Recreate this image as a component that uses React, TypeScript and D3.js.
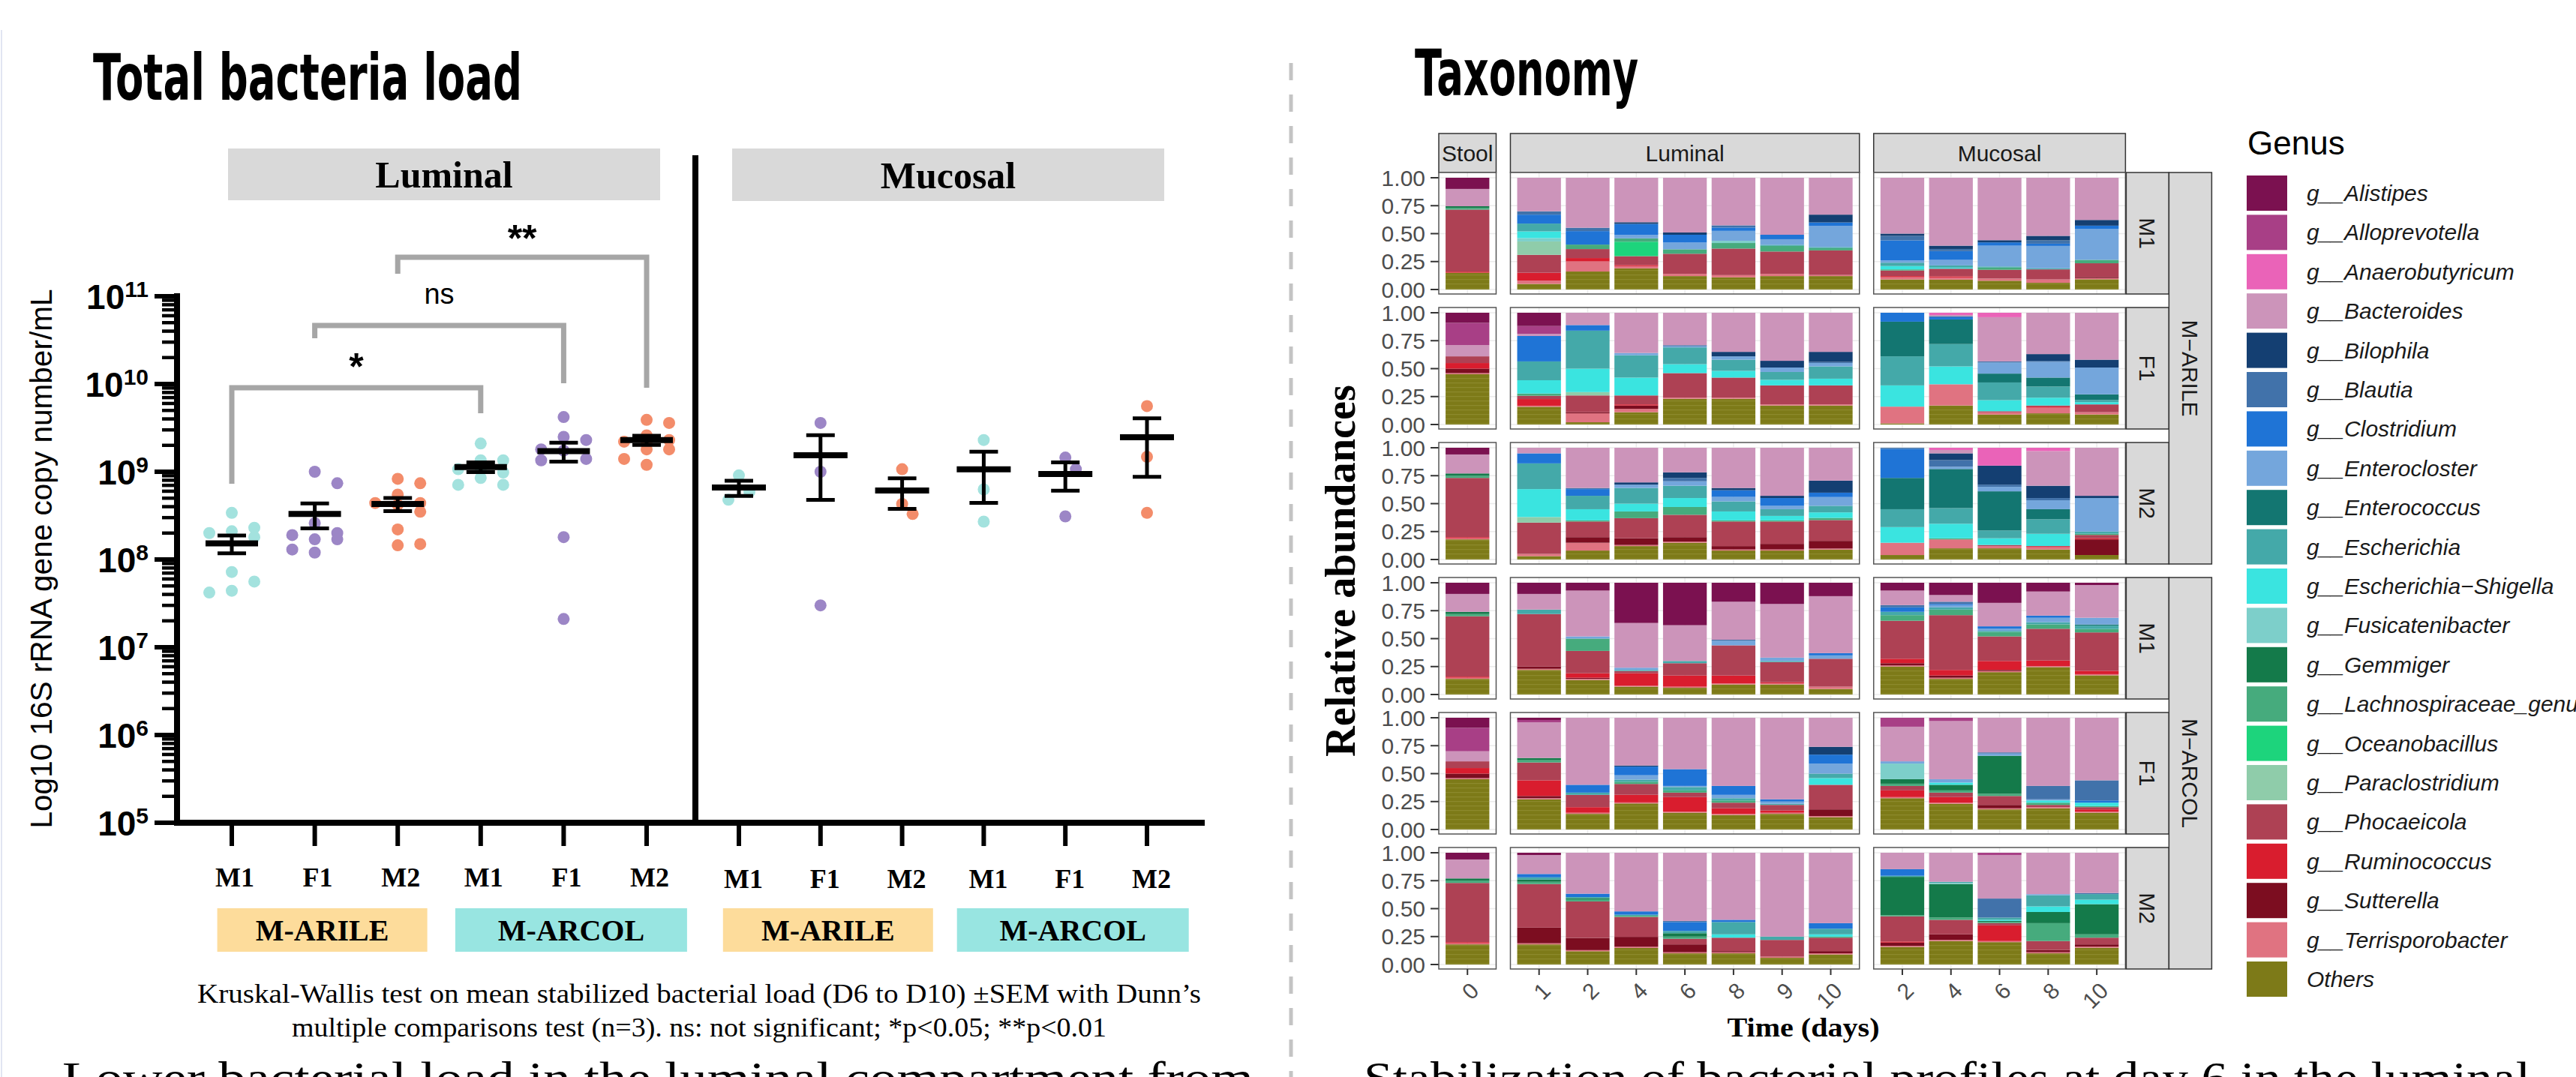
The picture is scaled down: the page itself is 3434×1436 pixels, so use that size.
import React from "react";
import * as d3 from "d3";

const W = 3434;
const H = 1436;
const SANS = "'Liberation Sans', Arial, sans-serif";
const SERIF = "'Liberation Serif', 'Times New Roman', serif";
const COND = "'DejaVu Sans', sans-serif";

// ---------------- Total bacteria load (copies / mL) ----------------
const loadLabels = ["M1", "F1", "M2", "M1", "F1", "M2"];

const luminalLoad = [
  [3.4e8, 2.0e8, 2.1e8, 2.3e8, 1.8e8, 7.2e7, 5.6e7, 4.2e7, 4.4e7],
  [1.0e9, 7.4e8, 2.6e8, 1.7e8, 2.0e8, 1.9e8, 1.7e8, 1.3e8, 1.2e8],
  [8.3e8, 7.4e8, 5.5e8, 4.4e8, 4.4e8, 4.2e8, 3.5e8, 2.2e8, 1.45e8, 1.5e8],
  [2.1e9, 1.35e9, 1.35e9, 9.8e8, 1.07e9, 1.07e9, 8.5e8, 7.1e8, 7.1e8],
  [4.2e9, 2.5e9, 2.3e9, 1.4e9, 1.74e9, 1.8e9, 1.35e9, 1.8e8, 2.1e7],
  [3.6e9, 3.9e9, 2.6e9, 2.2e9, 2.3e9, 2.2e9, 1.8e9, 1.8e9, 1.2e9, 1.4e9],
];
const mucosalLoad = [
  [9.1e8, 5.9e8, 4.8e8],
  [3.6e9, 1.0e9, 3.0e7],
  [1.07e9, 4.3e8, 3.3e8],
  [2.3e9, 6.3e8, 2.7e8],
  [1.45e9, 1.07e9, 3.1e8],
  [5.6e9, 1.48e9, 3.4e8],
];
const comparisons = [
  { from: 0, to: 3, label: "*" },
  { from: 1, to: 4, label: "ns" },
  { from: 2, to: 5, label: "**" },
];
const loadExponents = [5, 6, 7, 8, 9, 10, 11];

// ---------------- Taxonomy ----------------
const genusKeys = ["Ali", "All", "Ana", "Bac", "Bil", "Bla", "Clo", "Ecl", "Eco", "Esc", "ESh", "Fus", "Gem", "Lac", "Oce", "Par", "Pho", "Rum", "Sut", "Ter", "Oth"];
const genusNames = [
  "g__Alistipes", "g__Alloprevotella", "g__Anaerobutyricum", "g__Bacteroides", "g__Bilophila",
  "g__Blautia", "g__Clostridium", "g__Enterocloster", "g__Enterococcus", "g__Escherichia",
  "g__Escherichia\u2212Shigella", "g__Fusicatenibacter", "g__Gemmiger", "g__Lachnospiraceae_genus",
  "g__Oceanobacillus", "g__Paraclostridium", "g__Phocaeicola", "g__Ruminococcus", "g__Sutterella",
  "g__Terrisporobacter", "Others",
];
const genusColors = [
  "#7b1150", "#a83f86", "#ea63b8", "#cc94ba", "#143f72", "#4172aa", "#1f74d6", "#74a6dc",
  "#137671", "#44a9a9", "#3ae4e0", "#7dcfca", "#147a4a", "#46ab7d", "#1dd47c", "#8fccaa",
  "#ae4154", "#d91d2e", "#7c0d20", "#e07381", "#7d7a18",
];

const stoolDays = ["0"];
const luminalDays = ["1", "2", "4", "6", "8", "9", "10"];
const mucosalDays = ["2", "4", "6", "8", "10"];
const facetRows = ["M1", "F1", "M2", "M1", "F1", "M2"];
const facetModels = ["M\u2212ARILE", "M\u2212ARCOL"];

// each row: stool, luminal days 1..10, mucosal days 2..10
const arileM1 = [
  { Ali: .10, Bac: .155, Gem: .015, Lac: .015, Pho: .555, Rum: .01, Oth: .15 },
  { Bac: .30, Bla: .03, Clo: .08, Esc: .07, ESh: .06, Fus: .03, Par: .12, Pho: .16, Rum: .07, Ter: .03, Oth: .05 },
  { Bac: .445, Bla: .03, Clo: .12, Lac: .04, Pho: .08, Rum: .03, Ter: .09, Oth: .16 },
  { Bac: .40, Bil: .015, Clo: .10, Ecl: .03, Lac: .03, Oce: .13, Pho: .08, Rum: .01, Ter: .02, Oth: .19 },
  { Bac: .49, Bil: .02, Clo: .07, Ecl: .06, Lac: .04, Pho: .18, Ter: .02, Oth: .12 },
  { Bac: .43, Bla: .02, Clo: .03, Ecl: .09, Fus: .02, Lac: .05, Pho: .24, Ter: .02, Oth: .11 },
  { Bac: .51, Clo: .04, Ecl: .05, Esc: .01, Lac: .05, Pho: .20, Ter: .02, Oth: .12 },
  { Bac: .33, Bil: .07, Clo: .03, Ecl: .19, Esc: .01, Lac: .02, Pho: .22, Ter: .01, Oth: .12 },
  { Bac: .50, Bil: .02, Bla: .04, Clo: .18, Ecl: .02, Esc: .03, ESh: .03, Lac: .01, Pho: .05, Rum: .01, Ter: .02, Oth: .09 },
  { Bac: .62, Bil: .03, Bla: .02, Clo: .08, Ecl: .05, Esc: .02, ESh: .01, Pho: .07, Rum: .01, Ter: .02, Oth: .09 },
  { Bac: .57, Bil: .02, Clo: .03, Ecl: .19, Esc: .01, Lac: .02, Pho: .08, Ter: .02, Oth: .08 },
  { Bac: .52, Bil: .04, Bla: .03, Clo: .02, Ecl: .20, Esc: .01, Pho: .09, Ter: .03, Oth: .06 },
  { Bac: .37, Bil: .05, Clo: .03, Ecl: .27, Lac: .03, Pho: .12, Sut: .01, Ter: .01, Oth: .09 },
];
const arileF1 = [
  { Ali: .09, All: .20, Bac: .10, Pho: .06, Rum: .05, Sut: .04, Ter: .01, Oth: .45 },
  { Ali: .12, All: .07, Bac: .02, Clo: .23, Esc: .17, ESh: .12, Lac: .02, Pho: .03, Rum: .06, Ter: .01, Oth: .16 },
  { Bac: .11, Clo: .05, Esc: .34, ESh: .21, Par: .03, Pho: .15, Sut: .01, Ter: .08, Oth: .02 },
  { Bac: .36, Ecl: .02, Esc: .20, ESh: .16, Pho: .08, Rum: .01, Sut: .03, Ter: .03, Oth: .11 },
  { Bac: .29, Bla: .01, Ecl: .01, Esc: .15, ESh: .08, Pho: .22, Ter: .01, Oth: .23 },
  { Bac: .35, Bil: .04, Ecl: .03, Esc: .10, ESh: .06, Pho: .18, Ter: .01, Oth: .23 },
  { Bac: .43, Bil: .06, Ecl: .04, Esc: .07, ESh: .05, Pho: .17, Ter: .01, Oth: .17 },
  { Bac: .35, Bil: .09, Bla: .01, Ecl: .03, Esc: .11, ESh: .06, Pho: .17, Ter: .01, Oth: .17 },
  { Clo: .08, Eco: .31, Esc: .26, ESh: .19, Ter: .15, Oth: .01 },
  { Ana: .02, Bac: .01, Bla: .01, Clo: .02, Eco: .22, Esc: .20, ESh: .16, Ter: .19, Oth: .17 },
  { Ana: .04, Bac: .40, Bla: .01, Ecl: .10, Eco: .08, Esc: .16, ESh: .10, Pho: .01, Ter: .02, Oth: .09 },
  { Bac: .37, Bil: .06, Bla: .01, Ecl: .14, Eco: .08, Esc: .10, ESh: .07, Pho: .01, Rum: .01, Ter: .05, Oth: .10 },
  { Bac: .42, Bil: .07, Ecl: .24, Eco: .05, Esc: .02, ESh: .02, Pho: .07, Ter: .02, Oth: .09 },
];
const arileM2 = [
  { Ali: .06, Bac: .17, Gem: .02, Lac: .02, Pho: .53, Rum: .01, Ter: .01, Oth: .18 },
  { Bac: .05, Clo: .09, Esc: .23, ESh: .25, Par: .05, Pho: .28, Ter: .02, Oth: .03 },
  { Bac: .36, Bla: .01, Clo: .06, Esc: .12, ESh: .10, Lac: .01, Pho: .14, Sut: .05, Ter: .07, Oth: .08 },
  { Bac: .31, Bil: .02, Ecl: .03, Esc: .14, ESh: .07, Lac: .06, Pho: .18, Sut: .06, Ter: .01, Oth: .12 },
  { Bac: .22, Bil: .05, Bla: .03, Ecl: .04, Esc: .11, ESh: .08, Lac: .07, Pho: .20, Sut: .04, Ter: .01, Oth: .15 },
  { Bac: .36, Bil: .02, Clo: .06, Ecl: .04, Esc: .09, ESh: .08, Lac: .01, Pho: .22, Sut: .03, Ter: .01, Oth: .08 },
  { Bac: .43, Bil: .02, Clo: .07, Ecl: .03, Esc: .06, ESh: .04, Lac: .01, Pho: .20, Sut: .05, Ter: .01, Oth: .08 },
  { Bac: .30, Bil: .11, Clo: .04, Ecl: .08, Esc: .06, ESh: .05, Lac: .02, Pho: .19, Sut: .07, Ter: .01, Oth: .09 },
  { Bla: .01, Clo: .26, Eco: .28, Esc: .16, ESh: .14, Ter: .11, Oth: .04 },
  { Ana: .02, Bac: .03, Bil: .06, Bla: .06, Ecl: .02, Eco: .35, Esc: .14, ESh: .13, Lac: .01, Ter: .08, Oth: .10 },
  { Ana: .16, Bil: .17, Bla: .02, Ecl: .04, Eco: .35, Esc: .07, ESh: .06, Pho: .01, Ter: .02, Oth: .10 },
  { Ana: .03, Bac: .31, Bil: .11, Bla: .02, Ecl: .08, Eco: .09, Esc: .13, ESh: .11, Rum: .01, Ter: .02, Oth: .09 },
  { Bac: .43, Bil: .02, Ecl: .30, Esc: .02, Lac: .01, Pho: .03, Rum: .01, Sut: .14, Oth: .04 },
];
const arcolM1 = [
  { Ali: .10, Bac: .16, Gem: .02, Lac: .02, Pho: .54, Rum: .01, Ter: .01, Oth: .14 },
  { Ali: .10, Bac: .14, Esc: .04, Pho: .47, Sut: .02, Ter: .01, Oth: .22 },
  { Ali: .07, Bac: .41, Ecl: .02, Lac: .11, Pho: .20, Rum: .04, Sut: .01, Ter: .01, Oth: .13 },
  { Ali: .36, Bac: .40, Ecl: .02, Esc: .01, Pho: .02, Rum: .11, Ter: .01, Oth: .07 },
  { Ali: .38, Bac: .32, Esc: .02, Pho: .11, Rum: .10, Ter: .01, Oth: .06 },
  { Ali: .17, Bac: .34, Bla: .01, Ecl: .04, Pho: .27, Rum: .07, Ter: .01, Oth: .09 },
  { Ali: .19, Bac: .48, Ecl: .03, Esc: .01, Pho: .18, Rum: .01, Ter: .01, Oth: .09 },
  { Ali: .12, Bac: .51, Clo: .02, Ecl: .03, Pho: .25, Ter: .02, Oth: .05 },
  { Ali: .07, Bac: .13, Bla: .02, Clo: .04, Esc: .03, Lac: .05, Pho: .34, Rum: .04, Sut: .02, Ter: .01, Oth: .25 },
  { Ali: .11, Bac: .06, Bla: .02, Clo: .01, Ecl: .02, Esc: .02, Lac: .05, Pho: .49, Rum: .05, Sut: .02, Ter: .01, Oth: .14 },
  { Ali: .18, Bac: .21, Clo: .02, Ecl: .02, Esc: .01, Lac: .04, Pho: .22, Rum: .08, Sut: .01, Ter: .01, Oth: .20 },
  { Ali: .08, Bac: .22, Clo: .02, Ecl: .04, Esc: .02, Lac: .04, Pho: .29, Rum: .05, Ter: .01, Oth: .25 },
  { Ali: .02, Bac: .29, Ecl: .06, Eco: .01, Esc: .03, Lac: .03, Pho: .34, Rum: .03, Ter: .01, Oth: .17 },
];
const arcolF1 = [
  { Ali: .09, All: .21, Bac: .09, Pho: .06, Rum: .05, Sut: .04, Ter: .01, Oth: .45 },
  { Ali: .02, All: .02, Bac: .32, Gem: .02, Lac: .02, Pho: .16, Rum: .14, Sut: .02, Ter: .01, Oth: .27 },
  { Bac: .60, Clo: .07, Esc: .02, Pho: .11, Rum: .05, Ter: .01, Oth: .14 },
  { Bac: .44, Bil: .01, Clo: .08, Ecl: .04, Esc: .02, Lac: .02, Pho: .10, Rum: .07, Ter: .01, Oth: .24 },
  { Bac: .46, Clo: .15, Ecl: .01, Esc: .03, Lac: .02, Pho: .04, Rum: .13, Ter: .01, Oth: .15 },
  { Bac: .61, Clo: .08, Ecl: .03, Esc: .02, Lac: .02, Pho: .05, Rum: .05, Ter: .01, Oth: .13 },
  { Bac: .73, Clo: .02, Ecl: .02, Esc: .01, Pho: .05, Rum: .02, Ter: .01, Oth: .14 },
  { Bac: .26, Bil: .07, Clo: .08, Ecl: .09, Esc: .04, ESh: .06, Pho: .22, Sut: .06, Ter: .01, Oth: .11 },
  { All: .08, Bac: .31, Ecl: .02, Fus: .14, Gem: .04, Lac: .02, Pho: .04, Rum: .06, Ter: .01, Oth: .28 },
  { All: .03, Bac: .52, Ecl: .03, ESh: .02, Gem: .05, Lac: .02, Pho: .04, Rum: .05, Ter: .01, Oth: .23 },
  { Bac: .31, Bla: .01, Ecl: .02, Gem: .34, Lac: .02, Pho: .08, Sut: .03, Ter: .01, Oth: .18 },
  { Bac: .61, Bla: .12, Ecl: .01, ESh: .02, Lac: .02, Pho: .02, Ter: .01, Oth: .19 },
  { Bac: .56, Bla: .18, Clo: .02, ESh: .03, Lac: .01, Pho: .02, Rum: .02, Ter: .01, Oth: .15 },
];
const arcolM2 = [
  { Ali: .06, Bac: .17, Gem: .02, Lac: .02, Pho: .53, Rum: .01, Ter: .01, Oth: .18 },
  { Ali: .02, Bac: .17, Clo: .03, Esc: .02, Gem: .02, Lac: .02, Pho: .39, Sut: .14, Ter: .01, Oth: .18 },
  { Bac: .37, Clo: .03, Esc: .01, Gem: .01, Lac: .02, Pho: .33, Sut: .11, Ter: .01, Oth: .12 },
  { Bac: .53, Clo: .03, Esc: .01, Lac: .01, Pho: .18, Sut: .09, Ter: .01, Oth: .15 },
  { Bac: .61, Bla: .01, Clo: .08, Esc: .02, Gem: .03, Lac: .02, Pho: .05, Sut: .07, Ter: .01, Oth: .10 },
  { Bac: .60, Clo: .02, Esc: .11, ESh: .03, Pho: .12, Sut: .01, Ter: .01, Oth: .10 },
  { Bac: .75, Esc: .03, Pho: .15, Ter: .01, Oth: .06 },
  { Bac: .63, Clo: .05, Esc: .05, ESh: .02, Lac: .01, Pho: .12, Sut: .02, Ter: .01, Oth: .09 },
  { Bac: .15, Clo: .06, Esc: .01, Gem: .35, Lac: .01, Pho: .23, Rum: .01, Sut: .03, Ter: .01, Oth: .16 },
  { Bac: .26, Esc: .01, Fus: .01, Gem: .30, Lac: .02, Pho: .13, Sut: .05, Ter: .01, Oth: .21 },
  { All: .02, Bac: .39, Bla: .17, Esc: .02, ESh: .01, Gem: .01, Lac: .01, Pho: .02, Rum: .14, Ter: .01, Oth: .20 },
  { Bac: .37, Ecl: .01, Esc: .10, ESh: .05, Gem: .10, Lac: .16, Pho: .08, Sut: .02, Ter: .01, Oth: .10 },
  { Bac: .36, Bla: .01, Esc: .05, ESh: .04, Gem: .27, Lac: .03, Pho: .06, Sut: .02, Ter: .01, Oth: .15 },
];
const taxonomyRows = [arileM1, arileF1, arileM2, arcolM1, arcolF1, arcolM2];

// ---------------- scales / helpers ----------------
const donorColor: Record<string, string> = { M1: "#a3e2de", F1: "#9c86c6", M2: "#f38c6a" };
const modelFill: Record<string, string> = { "M-ARILE": "#fddc9b", "M-ARCOL": "#98e5e1" };
const modelBoxW: Record<string, number> = { "M-ARILE": 280, "M-ARCOL": 309 };

const yLoad = d3.scaleLog().domain([1e5, 1e11]).range([1097, 395]);
const xLum = d3.scalePoint<number>().domain(d3.range(6)).range([309, 862]);
const xMuc = d3.scalePoint<number>().domain(d3.range(6)).range([985, 1529]);

function swarm(vals: number[], cx: number, laneW: number, minDy: number) {
  const pts = vals.map((v) => ({ v, y: yLoad(v), x: cx }));
  const placed: { lane: number; y: number }[] = [];
  const lanes = [0, 1, -1];
  [...pts].sort((a, b) => a.y - b.y).forEach((p) => {
    let best = 0;
    let bestD = -1;
    for (const l of lanes) {
      const d = d3.min(placed.filter((q) => q.lane === l), (q) => Math.abs(q.y - p.y)) ?? Infinity;
      if (d >= minDy) { best = l; break; }
      if (d > bestD) { bestD = d; best = l; }
    }
    placed.push({ lane: best, y: p.y });
    p.x = cx + best * laneW;
  });
  return pts;
}

function LoadGroup({ vals, cx, donor, laneW, minDy, halfW }: any) {
  const m = d3.mean(vals) as number;
  const sem = (d3.deviation(vals) as number) / Math.sqrt(vals.length);
  const pts = swarm(vals, cx, laneW, minDy);
  return (
    <g>
      {pts.map((p, i) => (
        <circle key={i} cx={p.x} cy={p.y} r={8} fill={donorColor[donor]} />
      ))}
      <line x1={cx} x2={cx} y1={yLoad(m + sem)} y2={yLoad(Math.max(m - sem, 1e5))} stroke="#000" strokeWidth={5} />
      <line x1={cx - 19} x2={cx + 19} y1={yLoad(m + sem)} y2={yLoad(m + sem)} stroke="#000" strokeWidth={5} />
      <line x1={cx - 19} x2={cx + 19} y1={yLoad(m - sem)} y2={yLoad(m - sem)} stroke="#000" strokeWidth={5} />
      <line x1={cx - halfW} x2={cx + halfW} y1={yLoad(m)} y2={yLoad(m)} stroke="#000" strokeWidth={8} />
    </g>
  );
}

function LoadChart() {
  const minor: number[] = [];
  for (let e = 5; e < 11; e++) for (let k = 2; k <= 9; k++) minor.push(k * 10 ** e);
  const bracketLayout = [
    { bar: 517, l: 645, r: 551, ty: 506, fs: 50 },
    { bar: 434, l: 451, r: 511, ty: 405, fs: 38 },
    { bar: 343, l: 365, r: 517, ty: 335, fs: 50 },
  ];
  const modelGroups = [
    { model: "M-ARILE", idx: [0, 1, 2] },
    { model: "M-ARCOL", idx: [3, 4, 5] },
  ];
  return (
    <g>
      <text x={124} y={133} fontFamily={COND} fontWeight="bold" fontSize={86} textLength={572} lengthAdjust="spacingAndGlyphs">
        Total bacteria load
      </text>

      {/* facet strips */}
      <rect x={304} y={198} width={576} height={69} fill="#d9d9d9" />
      <text x={592} y={250} textAnchor="middle" fontFamily={SERIF} fontWeight="bold" fontSize={50}>Luminal</text>
      <rect x={976} y={198} width={576} height={70} fill="#d9d9d9" />
      <text x={1264} y={251} textAnchor="middle" fontFamily={SERIF} fontWeight="bold" fontSize={50}>Mucosal</text>

      {/* y axis */}
      <line x1={236} x2={236} y1={391} y2={1101} stroke="#000" strokeWidth={8} />
      {minor.map((v, i) => (
        <line key={i} x1={216} x2={236} y1={yLoad(v)} y2={yLoad(v)} stroke="#000" strokeWidth={4.5} />
      ))}
      {loadExponents.map((e) => (
        <g key={e}>
          <line x1={206} x2={236} y1={yLoad(10 ** e)} y2={yLoad(10 ** e)} stroke="#000" strokeWidth={6} />
          <text x={198} y={yLoad(10 ** e) + 17} textAnchor="end" fontFamily={SANS} fontWeight="bold" fontSize={46}>
            10<tspan dy={-16} fontSize={30}>{e}</tspan>
          </text>
        </g>
      ))}
      <text transform="translate(69,745) rotate(-90)" textAnchor="middle" fontFamily={SANS} fontSize={40} textLength={719} lengthAdjust="spacingAndGlyphs">
        Log10 16S rRNA gene copy number/mL
      </text>

      {/* x axis + separator */}
      <line x1={232} x2={1606} y1={1097} y2={1097} stroke="#000" strokeWidth={8} />
      <line x1={927} x2={927} y1={207} y2={1101} stroke="#000" strokeWidth={8} />
      {d3.range(6).map((i) => (
        <g key={i}>
          <line x1={xLum(i)} x2={xLum(i)} y1={1097} y2={1128} stroke="#000" strokeWidth={6} />
          <line x1={xMuc(i)} x2={xMuc(i)} y1={1097} y2={1128} stroke="#000" strokeWidth={6} />
          <text x={(xLum(i) as number) + 4} y={1182} textAnchor="middle" fontFamily={SERIF} fontWeight="bold" fontSize={36}>{loadLabels[i]}</text>
          <text x={(xMuc(i) as number) + 6} y={1184} textAnchor="middle" fontFamily={SERIF} fontWeight="bold" fontSize={36}>{loadLabels[i]}</text>
        </g>
      ))}

      {/* model boxes */}
      {[xLum, xMuc].map((sc, s) =>
        modelGroups.map((g) => {
          const mid = ((sc(g.idx[0]) as number) + (sc(g.idx[2]) as number)) / 2 + 10;
          const w = modelBoxW[g.model];
          return (
            <g key={s + g.model}>
              <rect x={mid - w / 2} y={1211} width={w} height={58} fill={modelFill[g.model]} />
              <text x={mid} y={1254} textAnchor="middle" fontFamily={SERIF} fontWeight="bold" fontSize={40}>{g.model}</text>
            </g>
          );
        })
      )}

      {/* significance brackets */}
      {comparisons.map((c, i) => {
        const b = bracketLayout[i];
        const x1 = xLum(c.from) as number;
        const x2 = xLum(c.to) as number;
        return (
          <g key={i}>
            <path d={`M${x1},${b.l}V${b.bar}H${x2}V${b.r}`} fill="none" stroke="#a6a6a6" strokeWidth={7} />
            <text x={(x1 + x2) / 2} y={b.ty} textAnchor="middle" fontFamily={SANS} fontWeight={c.label === "ns" ? "normal" : "bold"} fontSize={b.fs}>
              {c.label}
            </text>
          </g>
        );
      })}

      {/* dots, means, SEM */}
      {luminalLoad.map((vals, i) => (
        <LoadGroup key={"l" + i} vals={vals} cx={xLum(i)} donor={loadLabels[i]} laneW={30} minDy={20} halfW={35} />
      ))}
      {mucosalLoad.map((vals, i) => (
        <LoadGroup key={"m" + i} vals={vals} cx={xMuc(i)} donor={loadLabels[i]} laneW={14} minDy={34} halfW={36} />
      ))}

      {/* caption */}
      <text x={932} y={1337} textAnchor="middle" fontFamily={SERIF} fontSize={36} textLength={1338} lengthAdjust="spacingAndGlyphs">
        Kruskal-Wallis test on mean stabilized bacterial load (D6 to D10) ±SEM with Dunn’s
      </text>
      <text x={932} y={1382} textAnchor="middle" fontFamily={SERIF} fontSize={36} textLength={1086} lengthAdjust="spacingAndGlyphs">
        multiple comparisons test (n=3). ns: not significant; *p&lt;0.05; **p&lt;0.01
      </text>
      <text x={83} y={1458} fontFamily={SERIF} fontSize={62} textLength={1588} lengthAdjust="spacingAndGlyphs">
        Lower bacterial load in the luminal compartment from
      </text>
    </g>
  );
}

// ---------------- taxonomy facets ----------------
const STEP = 64.8;
const PGAP = 19;
const ROW_TOP = 237;
const ROW_PITCH = 180;
const ROW_H = 149;

function TaxonomyChart() {
  const comps = [
    { name: "Stool", days: stoolDays, from: 0 },
    { name: "Luminal", days: luminalDays, from: 1 },
    { name: "Mucosal", days: mucosalDays, from: 8 },
  ];
  let cx = 1918;
  const panels = comps.map((c) => {
    const w = STEP * (c.days.length + 0.18);
    const scale = d3.scaleBand().domain(c.days).range([cx, cx + w]).paddingInner(0.1).paddingOuter(0.14);
    const p = { ...c, x0: cx, x1: cx + w, scale };
    cx += w + PGAP;
    return p;
  });
  const xEnd = panels[2].x1;
  const stackKeys = [...genusKeys].reverse();
  const stacker = d3.stack<any>().keys(stackKeys).value((d: any, k: string) => d[k] ?? 0).offset(d3.stackOffsetExpand);
  const colorOf = (k: string) => genusColors[genusKeys.indexOf(k)];
  const yTicks = [0, 0.25, 0.5, 0.75, 1];
  const fmt = d3.format(".2f");
  const lastRow = facetRows.length - 1;

  return (
    <g>
      <defs>
        <pattern id="othersPat" width={8} height={6} patternUnits="userSpaceOnUse">
          <rect width={8} height={6} fill="#7d7a18" />
          <rect y={0} width={8} height={1.2} fill="#98953e" opacity={0.55} />
        </pattern>
      </defs>
      <text x={1886} y={127} fontFamily={COND} fontWeight="bold" fontSize={86} textLength={298} lengthAdjust="spacingAndGlyphs">
        Taxonomy
      </text>

      {/* column strips */}
      {panels.map((p) => (
        <g key={p.name}>
          <rect x={p.x0} y={178} width={p.x1 - p.x0} height={52} fill="#d9d9d9" stroke="#333" strokeWidth={1.5} />
          <text x={(p.x0 + p.x1) / 2} y={215} textAnchor="middle" fontFamily={SANS} fontSize={30} fill="#1a1a1a">{p.name}</text>
        </g>
      ))}

      {taxonomyRows.map((row, r) => {
        const y = d3.scaleLinear().domain([0, 1]).range([ROW_TOP + r * ROW_PITCH + ROW_H, ROW_TOP + r * ROW_PITCH]);
        const top = y(1) - 7;
        const bot = y(0) + 6;
        return (
          <g key={r}>
            {yTicks.map((t) => (
              <g key={t}>
                <line x1={1907} x2={1918} y1={y(t)} y2={y(t)} stroke="#333" strokeWidth={2} />
                <text x={1900} y={y(t) + 10.5} textAnchor="end" fontFamily={SANS} fontSize={30} fill="#4d4d4d">{fmt(t)}</text>
              </g>
            ))}
            {panels.map((p) => {
              const samples = row.slice(p.from, p.from + p.days.length).map((d, i) => ({ ...d, day: p.days[i] }));
              const series = stacker(samples);
              return (
                <g key={p.name}>
                  <rect x={p.x0} y={top} width={p.x1 - p.x0} height={bot - top} fill="#fff" />
                  {yTicks.map((t) => (
                    <line key={t} x1={p.x0} x2={p.x1} y1={y(t)} y2={y(t)} stroke="#ebebeb" strokeWidth={1.5} />
                  ))}
                  {p.days.map((d) => (
                    <line key={d} x1={(p.scale(d) as number) + p.scale.bandwidth() / 2} x2={(p.scale(d) as number) + p.scale.bandwidth() / 2} y1={top} y2={bot} stroke="#ebebeb" strokeWidth={1.5} />
                  ))}
                  {series.map((s) =>
                    s.map((seg, i) =>
                      seg[1] - seg[0] > 0 ? (
                        <rect
                          key={s.key + i}
                          x={p.scale(p.days[i])}
                          y={y(seg[1])}
                          width={p.scale.bandwidth()}
                          height={y(seg[0]) - y(seg[1])}
                          fill={s.key === "Oth" ? "url(#othersPat)" : colorOf(s.key)}
                        />
                      ) : null
                    )
                  )}
                  <rect x={p.x0} y={top} width={p.x1 - p.x0} height={bot - top} fill="none" stroke="#555" strokeWidth={1.5} />
                  {r === lastRow &&
                    p.days.map((d) => {
                      const c = (p.scale(d) as number) + p.scale.bandwidth() / 2;
                      return (
                        <g key={d}>
                          <line x1={c} x2={c} y1={bot} y2={bot + 8} stroke="#333" strokeWidth={2} />
                          <text transform={`translate(${c + 2},${bot + 16}) rotate(-45)`} textAnchor="end" dy="0.71em" fontFamily={SANS} fontSize={30} fill="#4d4d4d">
                            {d}
                          </text>
                        </g>
                      );
                    })}
                </g>
              );
            })}
            <rect x={xEnd + 1} y={top} width={57} height={bot - top} fill="#d9d9d9" stroke="#333" strokeWidth={1.5} />
            <text transform={`translate(${xEnd + 29.5},${(top + bot) / 2}) rotate(90)`} textAnchor="middle" dy="0.35em" fontFamily={SANS} fontSize={30} fill="#1a1a1a">
              {facetRows[r]}
            </text>
          </g>
        );
      })}

      {/* model strips */}
      {facetModels.map((m, i) => {
        const top = ROW_TOP + i * 3 * ROW_PITCH - 7;
        const bot = ROW_TOP + (i * 3 + 2) * ROW_PITCH + ROW_H + 6;
        return (
          <g key={m}>
            <rect x={xEnd + 58} y={top} width={57} height={bot - top} fill="#d9d9d9" stroke="#333" strokeWidth={1.5} />
            <text transform={`translate(${xEnd + 86.5},${(top + bot) / 2}) rotate(90)`} textAnchor="middle" dy="0.35em" fontFamily={SANS} fontSize={30} fill="#1a1a1a">
              {m}
            </text>
          </g>
        );
      })}

      {/* axis titles */}
      <text transform="translate(1806,761) rotate(-90)" textAnchor="middle" fontFamily={SERIF} fontWeight="bold" fontSize={56} textLength={496} lengthAdjust="spacingAndGlyphs">
        Relative abundances
      </text>
      <text x={2404} y={1382} textAnchor="middle" fontFamily={SERIF} fontWeight="bold" fontSize={36} textLength={203} lengthAdjust="spacingAndGlyphs">
        Time (days)
      </text>

      {/* legend */}
      <text x={2996} y={206} fontFamily={SANS} fontSize={44} fill="#000">Genus</text>
      {genusNames.map((g, i) => {
        const ky = 234 + i * 52.4;
        return (
          <g key={g}>
            <rect x={2995} y={ky} width={54} height={47} fill={genusColors[i]} />
            <text x={3075} y={ky + 34} fontFamily={SANS} fontStyle="italic" fontSize={30} fill="#1a1a1a">{g}</text>
          </g>
        );
      })}

      <text x={1818} y={1458} fontFamily={SERIF} fontSize={62} textLength={1555} lengthAdjust="spacingAndGlyphs">
        Stabilization of bacterial profiles at day 6 in the luminal
      </text>
    </g>
  );
}

export default function App() {
  return (
    <svg width={W} height={H} viewBox={`0 0 ${W} ${H}`} style={{ position: "absolute", left: 0, top: 0, background: "#fff" }}>
      <rect width={W} height={H} fill="#fff" />
      <line x1={2} x2={2} y1={40} y2={H} stroke="#e1e5f2" strokeWidth={2} />
      <line x1={1721} x2={1721} y1={84} y2={H} stroke="#c4c4c4" strokeWidth={5} strokeDasharray="23 19" />
      <LoadChart />
      <TaxonomyChart />
    </svg>
  );
}
